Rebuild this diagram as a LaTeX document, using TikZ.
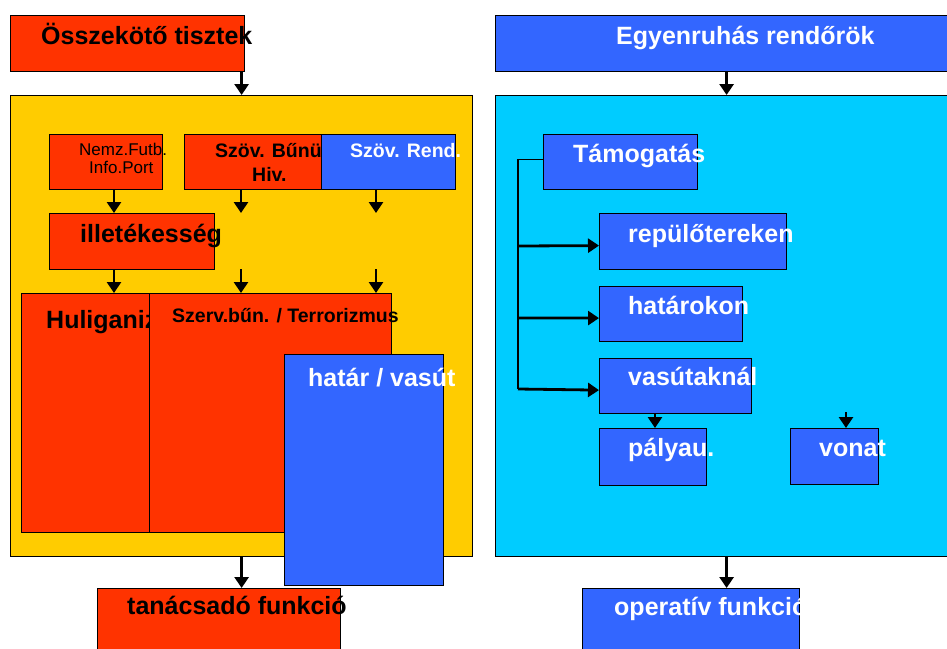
\documentclass[tikz,border=0pt]{standalone}
\usepackage{fontspec}
\setmainfont{Liberation Sans}
\usetikzlibrary{arrows.meta}

\definecolor{piros}{HTML}{FF3300}
\definecolor{kek}{HTML}{3366FF}
\definecolor{sarga}{HTML}{FFCC00}
\definecolor{cian}{HTML}{00CCFF}

\tikzset{
  doboz/.style={draw, line width=1.2pt, inner sep=0pt, anchor=north west},
  pdoboz/.style={doboz, fill=piros},
  kdoboz/.style={doboz, fill=kek},
  felirat/.style={inner sep=0pt, anchor=base west, font=\bfseries\fontsize{25}{30}\selectfont},
  kfelirat/.style={felirat, font=\bfseries\fontsize{19.5}{22}\selectfont},
  nyil/.style={line width=2.8pt, -{Triangle[length=11pt,width=14pt]}},
}

\begin{document}
\begin{tikzpicture}[x=1pt,y=-1pt]
      \useasboundingbox (0,0) rectangle (947,648);
      \clip (0,0) rectangle (947,648);
      % left column
      \node[pdoboz, minimum width=234, minimum height=56] (osszt) at (10,15) {};
      \node[felirat] (t-osszt) at (41,44) {Összekötő tisztek};
      \node[doboz, fill=sarga, minimum width=462, minimum height=461] (sarga) at (10,95) {};
      \node[pdoboz, minimum width=113, minimum height=55] (nemz) at (49,134) {};
      \node[felirat, font=\fontsize{17}{20}\selectfont] (t-nemz1) at (79,155) {Nemz.Futb.};
      \node[felirat, font=\fontsize{17}{20}\selectfont] (t-nemz2) at (89,173) {Info.Port};
      \node[pdoboz, minimum width=138, minimum height=55] (bunu) at (184,134) {};
      \node[kfelirat] (t-bunu1) at (215,157) {Szöv. Bűnü.};
      \node[kfelirat] (t-bunu2) at (252,181) {Hiv.};
      \node[kdoboz, minimum width=134, minimum height=55] (rend) at (321,134) {};
      \node[kfelirat, text=white] (t-rend) at (350,157) {Szöv. Rend.};
      \node[pdoboz, minimum width=165, minimum height=56] (illet) at (49,213) {};
      \node[felirat] (t-illet) at (80,242) {illetékesség};
      \node[pdoboz, minimum width=128, minimum height=239] (hulig) at (21,293) {};
      \node[felirat] (t-hulig) at (46,328) {Huliganiz};
      \node[pdoboz, minimum width=242, minimum height=239] (szerv) at (149,293) {};
      \node[kfelirat] (t-szerv) at (172,322) {Szerv.bűn. / Terrorizmus};
      \node[kdoboz, minimum width=159, minimum height=231] (hatar) at (284,354) {};
      \node[felirat, text=white] (t-hatar) at (308,386) {határ / vasút};
      \node[pdoboz, minimum width=243, minimum height=70] (tanacs) at (97,588) {};
      \node[felirat] (t-tanacs) at (127,614) {tanácsadó funkció};
      % right column
      \node[kdoboz, minimum width=462, minimum height=56] (egyen) at (495,15) {};
      \node[felirat, text=white] (t-egyen) at (616,44) {Egyenruhás rendőrök};
      \node[doboz, fill=cian, minimum width=462, minimum height=461] (cian) at (495,95) {};
      \node[kdoboz, minimum width=154, minimum height=55] (tamog) at (543,134) {};
      \node[felirat, text=white] (t-tamog) at (573,162) {Támogatás};
      \node[kdoboz, minimum width=187, minimum height=56] (repul) at (599,213) {};
      \node[felirat, text=white] (t-repul) at (628,242) {repülőtereken};
      \node[kdoboz, minimum width=143, minimum height=55] (hatarok) at (599,286) {};
      \node[felirat, text=white] (t-hatarok) at (628,314) {határokon};
      \node[kdoboz, minimum width=152, minimum height=55] (vasut) at (599,358) {};
      \node[felirat, text=white] (t-vasut) at (628,385) {vasútaknál};
      \node[kdoboz, minimum width=107, minimum height=57] (palya) at (599,428) {};
      \node[felirat, text=white] (t-palya) at (628,456) {pályau.};
      \node[kdoboz, minimum width=88, minimum height=56] (vonat) at (790,428) {};
      \node[felirat, text=white] (t-vonat) at (819,456) {vonat};
      \node[kdoboz, minimum width=217, minimum height=70] (operativ) at (582,588) {};
      \node[felirat, text=white] (t-operativ) at (614,615) {operatív funkció};
      % arrows
      \coordinate (o1) at (114,0);
      \coordinate (v2) at (241,213);
      \coordinate (v3) at (376,213);
      \coordinate (k2) at (241,269);
      \coordinate (k3) at (376,269);
      \coordinate (o4) at (655,0);
      \coordinate (vo) at (846,412);
      \coordinate (a1) at (518,246);
      \coordinate (a2) at (518,318);
      \coordinate (a3) at (518,389);
      \draw[nyil] (osszt.south -| sarga.north) -- (sarga.north);
      \draw[nyil] (nemz.south -| o1) -- (illet.north -| o1);
      \draw[nyil] (bunu.south -| v2) -- (v2);
      \draw[nyil] (rend.south -| v3) -- (v3);
      \draw[nyil] (illet.south -| o1) -- (hulig.north -| o1);
      \draw[nyil] (k2) -- (szerv.north -| k2);
      \draw[nyil] (k3) -- (szerv.north -| k3);
      \draw[nyil] (sarga.south) -- (tanacs.north -| sarga.south);
      \draw[nyil] (egyen.south) -- (cian.north);
      \draw[line width=1.2pt] ([yshift=3pt]tamog.west) -| (a3);
      \draw[nyil] (a1) -- ([yshift=-4pt]repul.west);
      \draw[nyil] (a2) -- ([yshift=-4pt]hatarok.west);
      \draw[nyil] (a3) -- ([yshift=-4pt]vasut.west);
      \draw[nyil] (vasut.south -| o4) -- (palya.north -| o4);
      \draw[nyil] (vo) -- (vonat.north -| vo);
      \draw[nyil] (cian.south) -- (operativ.north -| cian.south);
\end{tikzpicture}
\end{document}
